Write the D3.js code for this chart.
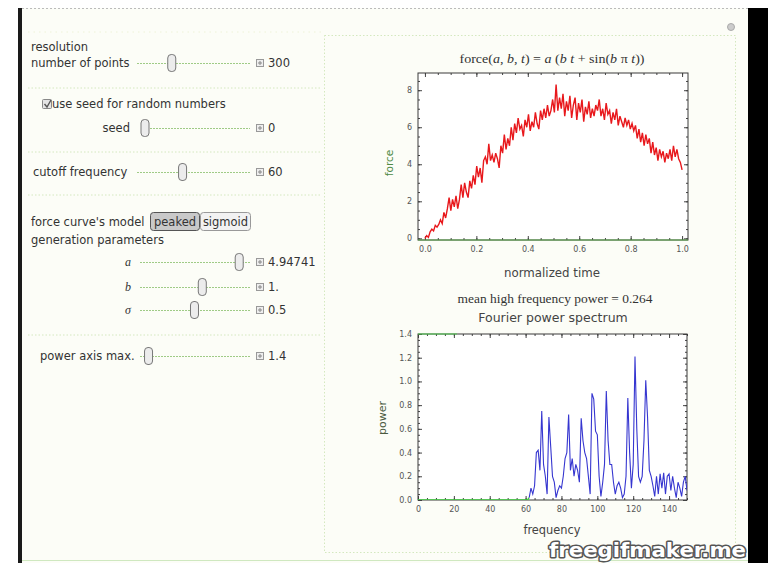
<!DOCTYPE html>
<html>
<head>
<meta charset="utf-8">
<script src="https://cdn.jsdelivr.net/npm/d3@7"></script>
<style>
body { margin: 0; background: #fff; }
svg text { font-family: "DejaVu Sans", sans-serif; }
.tick text { font-size: 8px; fill: #555; }
.tick line { stroke: #444; }
</style>
</head>
<body>
<svg id="chart" width="768" height="563"></svg>
<script>
// force curve, 150 samples over normalized time 0..1
const forceValues = [
  0, 0.15, 0.05, 0.35, 0.5, 0.4, 0.7, 0.6, 0.75, 1.0,
  0.8, 1.4, 1.1, 1.6, 2.2, 1.5, 2.1, 1.7, 2.3, 1.6,
  2.1, 2.9, 2.2, 3.0, 2.5, 2.2, 3.1, 2.7, 3.4, 2.9,
  3.9, 3.3, 3.8, 3.0, 4.2, 4.4, 4.0, 5.1, 4.2, 4.5,
  4.1, 4.6, 4.3, 3.8, 5.0, 4.6, 5.6, 4.8, 5.4, 5.0,
  6.0, 5.3, 6.2, 5.7, 6.5, 5.9, 6.1, 5.5, 6.4, 6.0,
  6.7, 5.8, 6.3, 6.0, 6.8, 6.2, 5.9, 6.9, 6.4, 7.0,
  6.5, 7.2, 6.6, 6.9, 7.5, 6.8, 8.3, 6.9, 7.6, 7.0,
  7.8, 6.6, 7.4, 6.9, 7.7, 6.5, 7.2, 7.6, 6.4, 7.3,
  6.8, 7.5, 6.3, 7.1, 6.7, 7.4, 6.5, 7.0, 6.6, 7.2,
  6.9, 7.5, 6.6, 7.0, 6.4, 7.3, 6.7, 6.9, 6.2, 6.8,
  6.4, 7.0, 6.1, 6.6, 6.3, 6.0, 6.5, 6.1, 6.4, 5.9,
  6.2, 5.8, 6.1, 5.4, 5.9, 5.2, 5.7, 5.0, 5.6, 5.1,
  5.4, 4.6, 5.2, 4.5, 4.9, 4.2, 4.8, 4.4, 4.7, 4.1,
  4.6, 4.3, 4.8, 4.2, 5.0, 4.4, 4.8, 4.3, 4.1, 3.7
];

// power spectrum at frequencies 0..150
const spectrumValues = [
  0, 0, 0, 0, 0, 0, 0, 0, 0, 0,
  0, 0, 0, 0, 0, 0, 0, 0, 0, 0,
  0, 0, 0, 0, 0, 0, 0, 0, 0, 0,
  0, 0, 0, 0, 0, 0, 0, 0, 0, 0,
  0, 0, 0, 0, 0, 0, 0, 0, 0, 0,
  0, 0, 0, 0, 0, 0, 0, 0, 0, 0,
  0, 0, 0.02, 0.1, 0.05, 0.12, 0.4, 0.42, 0.25, 0.75,
  0.3, 0.2, 0.05, 0.7, 0.45, 0.2, 0.15, 0.02, 0.08, 0.12,
  0.1, 0.2, 0.35, 0.4, 0.72, 0.25, 0.35, 0.2, 0.3, 0.25,
  0.15, 0.69, 0.5, 0.4, 0.35, 0.2, 0.05, 0.9, 0.85, 0.58,
  0.55, 0.2, 0.03, 0.15, 0.3, 0.92, 0.5, 0.3, 0.3, 0.15,
  0.05, 0.12, 0.15, 0.1, 0.02, 0.05, 0.2, 0.86, 0.4, 0.1,
  0.3, 1.21, 0.6, 0.2, 0.15, 0.2, 0.5, 1.01, 0.7, 0.25,
  0.2, 0.12, 0.03, 0.2, 0.05, 0.22, 0.1, 0.23, 0.05, 0.2,
  0.22, 0.08, 0.2, 0.1, 0.02, 0.15, 0.1, 0.03, 0.15, 0.2,
  0.08
];
const cutoffIndex = 62;

const forceXTicks = [0, 0.2, 0.4, 0.6, 0.8, 1.0];
const forceYTicks = [0, 2, 4, 6, 8];
const powerXTicks = [0, 20, 40, 60, 80, 100, 120, 140];
const powerYTicks = [0, 0.2, 0.4, 0.6, 0.8, 1.0, 1.2, 1.4];

// manipulate controls
const sliderLabels = ["number of points", "seed", "cutoff frequency", "a", "b", "σ", "power axis max."];
const sliderTexts = ["300", "0", "60", "4.94741", "1.", "0.5", "1.4"];
const sliderNumbers = [300, 0, 60, 4.94741, 1, 0.5, 1.4];
const sliderMins = [10, 0, 1, 0, 0, 0.01, 1];
const sliderMaxs = [1000, 100, 150, 5.3, 1.75, 1, 10];
const modelButtons = ["peaked", "sigmoid"];

const svg = d3.select("#chart");

// ---------- panel chrome ----------
svg.append("rect").attr("width", 768).attr("height", 563).attr("fill", "#fff");
svg.append("rect").attr("x", 22).attr("y", 8).attr("width", 726).attr("height", 555).attr("fill", "#fcfdf7");
svg.append("rect").attr("x", 18).attr("y", 8).attr("width", 4).attr("height", 555).attr("fill", "#1a1a1a");
svg.append("rect").attr("x", 748).attr("y", 8).attr("width", 20).attr("height", 555).attr("fill", "#000");
svg.append("line").attr("x1", 22).attr("x2", 748).attr("y1", 8.5).attr("y2", 8.5)
    .attr("stroke", "#bbb").attr("stroke-dasharray", "2,2");
svg.append("line").attr("x1", 22).attr("x2", 748).attr("y1", 560.5).attr("y2", 560.5)
    .attr("stroke", "#cfe8c0");

const dotted = "#d4e8bf";
[88, 152, 195, 335].forEach(function (y) {
    svg.append("line").attr("x1", 28).attr("x2", 322).attr("y1", y).attr("y2", y)
        .attr("stroke", dotted).attr("stroke-dasharray", "1.5,2");
});
svg.append("line").attr("x1", 28).attr("x2", 322).attr("y1", 32).attr("y2", 32)
    .attr("stroke", "#eef3d8").attr("stroke-dasharray", "1.5,4");
svg.append("rect").attr("x", 324.5).attr("y", 35.5).attr("width", 411).attr("height", 517)
    .attr("fill", "none").attr("stroke", dotted).attr("stroke-dasharray", "1.5,2");

// little options circle top right
svg.append("circle").attr("cx", 731).attr("cy", 27).attr("r", 3.5)
    .attr("fill", "#ccc").attr("stroke", "#aaa");

// ---------- controls ----------
const ctl = svg.append("g").attr("fill", "#333").style("font-size", "11.5px");

ctl.append("text").attr("x", 31).attr("y", 51).text("resolution");

// checkbox
ctl.append("rect").attr("x", 42.5).attr("y", 99.5).attr("width", 9).attr("height", 9)
    .attr("fill", "#e4e4e4").attr("stroke", "#888").attr("rx", 1);
ctl.append("path").attr("d", "M44.5,104 L47,107 L51,100").attr("fill", "none")
    .attr("stroke", "#555").attr("stroke-width", 1.4);
ctl.append("text").attr("x", 52).attr("y", 108).text("use seed for random numbers");

ctl.append("text").attr("x", 31).attr("y", 226).text("force curve's model");
ctl.append("text").attr("x", 31).attr("y", 244).text("generation parameters");

// setter bar
const btnX = [150, 200], btnW = [49, 50];
modelButtons.forEach(function (b, i) {
    ctl.append("rect").attr("x", btnX[i] + 0.5).attr("y", 212.5).attr("width", btnW[i]).attr("height", 18)
        .attr("rx", 3).attr("fill", i === 0 ? "#c9c9c9" : "#f2f2f2")
        .attr("stroke", i === 0 ? "#555" : "#999");
    ctl.append("text").attr("x", btnX[i] + btnW[i] / 2 + 0.5).attr("y", 226)
        .attr("text-anchor", "middle").text(b);
});

// slider rows: label x / anchor, center y, track ends
const sliderRows = [
    { lx: 31, anchor: "start", y: 63, x0: 137, x1: 250 },
    { lx: 130, anchor: "end", y: 128, x0: 141, x1: 250 },
    { lx: 33, anchor: "start", y: 172, x0: 137, x1: 250 },
    { lx: 131, anchor: "end", y: 262, x0: 140, x1: 250 },
    { lx: 131, anchor: "end", y: 287, x0: 140, x1: 250 },
    { lx: 131, anchor: "end", y: 310, x0: 140, x1: 250 },
    { lx: 40, anchor: "start", y: 356, x0: 140, x1: 250 }
];

sliderRows.forEach(function (r, i) {
    const italic = i >= 3 && i <= 5;
    ctl.append("text").attr("x", r.lx).attr("y", r.y + 4)
        .attr("text-anchor", r.anchor)
        .style("font-style", italic ? "italic" : null)
        .style("font-family", italic ? "'Liberation Serif', serif" : null)
        .style("font-size", italic ? "12px" : null)
        .text(sliderLabels[i]);
    const sx = d3.scaleLinear().domain([sliderMins[i], sliderMaxs[i]]).range([r.x0 + 4, r.x1 - 4]);
    ctl.append("line").attr("x1", r.x0).attr("x2", r.x1).attr("y1", r.y + 0.5).attr("y2", r.y + 0.5)
        .attr("stroke", "#9fcb86").attr("stroke-dasharray", "2,1");
    ctl.append("rect").attr("x", sx(sliderNumbers[i]) - 4).attr("y", r.y - 8.5)
        .attr("width", 8).attr("height", 17).attr("rx", 3.5)
        .attr("fill", "#ececec").attr("stroke", "#777");
    // plus box
    const bx = r.x1 + 6;
    ctl.append("rect").attr("x", bx + 0.5).attr("y", r.y - 3.5).attr("width", 7).attr("height", 7)
        .attr("fill", "#eee").attr("stroke", "#999");
    ctl.append("path").attr("d", "M" + (bx + 2) + "," + (r.y) + "h4M" + (bx + 4) + "," + (r.y - 2) + "v4")
        .attr("stroke", "#888").attr("stroke-width", 1);
    ctl.append("text").attr("x", bx + 12).attr("y", r.y + 4).text(sliderTexts[i]);
});

// ---------- plot helper ----------
function framePlot(g, x, y, xTicks, yTicks, xMinor, yMinor, xFmt, yFmt) {
    const [L, R] = x.range(), [B, T] = y.range();
    g.append("rect").attr("x", L).attr("y", T).attr("width", R - L).attr("height", B - T).attr("fill", "#fff");

    const axes = [
        { ax: d3.axisBottom(x), tr: "translate(0," + B + ")", major: xTicks, minor: xMinor, fmt: xFmt },
        { ax: d3.axisTop(x), tr: "translate(0," + T + ")", major: xTicks, minor: xMinor, fmt: null },
        { ax: d3.axisLeft(y), tr: "translate(" + L + ",0)", major: yTicks, minor: yMinor, fmt: yFmt },
        { ax: d3.axisRight(y), tr: "translate(" + R + ",0)", major: yTicks, minor: yMinor, fmt: null }
    ];
    axes.forEach(function (a) {
        const mg = g.append("g").attr("transform", a.tr)
            .call(a.ax.tickValues(a.minor).tickSize(-2).tickFormat(""));
        mg.select(".domain").remove();
        const Mg = g.append("g").attr("transform", a.tr)
            .call(a.ax.tickValues(a.major).tickSize(-4).tickPadding(a.fmt ? 6 : 0)
                .tickFormat(a.fmt ? a.fmt : ""));
        Mg.select(".domain").remove();
    });
    g.append("rect").attr("x", L).attr("y", T).attr("width", R - L).attr("height", B - T)
        .attr("fill", "none").attr("stroke", "#3a3a3a").attr("stroke-width", 1);
}

// ---------- force plot ----------
const fx = d3.scaleLinear().domain([-0.027, 1.023]).range([418, 688]);
const fy = d3.scaleLinear().domain([-0.09, 8.93]).range([240, 73]);
const gf = svg.append("g");
framePlot(gf, fx, fy, forceXTicks, forceYTicks,
    d3.range(0, 1.001, 0.05), d3.range(0, 8.9, 0.5), d3.format(".1f"), d3.format("d"));
gf.append("line").attr("x1", 418).attr("x2", 688).attr("y1", 240).attr("y2", 240)
    .attr("stroke", "#5aa94a").attr("stroke-width", 1);

svg.append("clipPath").attr("id", "fclip").append("rect")
    .attr("x", 418).attr("y", 73).attr("width", 270).attr("height", 167);

const forceLine = d3.line()
    .x(function (d, i) { return fx(i / (forceValues.length - 1)); })
    .y(function (d) { return fy(d); });
gf.append("path").attr("clip-path", "url(#fclip)")
    .attr("d", forceLine(forceValues))
    .attr("fill", "none").attr("stroke", "#e8181c").attr("stroke-width", 1.4);

svg.append("text").attr("x", 552).attr("y", 63).attr("text-anchor", "middle")
    .attr("textLength", 185).attr("lengthAdjust", "spacingAndGlyphs")
    .style("font-family", "'Liberation Serif', serif").style("font-size", "12.5px").attr("fill", "#333")
    .html('force(<tspan font-style="italic">a</tspan>, <tspan font-style="italic">b</tspan>, <tspan font-style="italic">t</tspan>) = <tspan font-style="italic">a</tspan> (<tspan font-style="italic">b t</tspan> + sin(<tspan font-style="italic">b</tspan> π <tspan font-style="italic">t</tspan>))');
svg.append("text").attr("x", 552).attr("y", 277).attr("text-anchor", "middle")
    .style("font-size", "11.8px").attr("fill", "#444").text("normalized time");
svg.append("text").attr("transform", "translate(393,163) rotate(-90)").attr("text-anchor", "middle")
    .style("font-size", "10.5px").attr("fill", "#4f8a45").text("force");

// ---------- power spectrum ----------
const px = d3.scaleLinear().domain([0, 150]).range([418, 687]);
const py = d3.scaleLinear().domain([0, 1.4]).range([500, 334]);
const gp = svg.append("g");
framePlot(gp, px, py, powerXTicks, powerYTicks,
    d3.range(0, 151, 5), d3.range(0, 1.41, 0.05), d3.format("d"), d3.format(".1f"));
gp.append("line").attr("x1", 418).attr("x2", 457).attr("y1", 334).attr("y2", 334)
    .attr("stroke", "#4fd04f").attr("stroke-width", 1.2);
gp.selectAll(".tick text").attr("fill", "#5b6b52");

svg.append("clipPath").attr("id", "pclip").append("rect")
    .attr("x", 418).attr("y", 334).attr("width", 269).attr("height", 166);

const specLine = d3.line()
    .x(function (d) { return px(d[0]); })
    .y(function (d) { return py(d[1]); });
const specPts = spectrumValues.map(function (v, i) { return [i, v]; });
gp.append("path").attr("clip-path", "url(#pclip)")
    .attr("d", specLine(specPts.slice(0, cutoffIndex + 1)))
    .attr("fill", "none").attr("stroke", "#3fd03f").attr("stroke-width", 1.4);
gp.append("path").attr("clip-path", "url(#pclip)")
    .attr("d", specLine(specPts.slice(cutoffIndex)))
    .attr("fill", "none").attr("stroke", "#3636d0").attr("stroke-width", 1.1);

svg.append("text").attr("x", 555).attr("y", 303).attr("text-anchor", "middle")
    .attr("textLength", 195).attr("lengthAdjust", "spacingAndGlyphs")
    .style("font-family", "'Liberation Serif', serif").style("font-size", "12.5px").attr("fill", "#333")
    .text("mean high frequency power = 0.264");
svg.append("text").attr("x", 553).attr("y", 322).attr("text-anchor", "middle")
    .style("font-size", "12.5px").attr("fill", "#444").text("Fourier power spectrum");
svg.append("text").attr("x", 552).attr("y", 534).attr("text-anchor", "middle")
    .style("font-size", "11.4px").attr("fill", "#444").text("frequency");
svg.append("text").attr("transform", "translate(386,418) rotate(-90)").attr("text-anchor", "middle")
    .style("font-size", "11px").attr("fill", "#4a5a40").text("power");

// ---------- watermark ----------
svg.append("text").attr("x", 746).attr("y", 557).attr("text-anchor", "end")
    .attr("textLength", 197).attr("lengthAdjust", "spacingAndGlyphs")
    .style("font-size", "20px").style("font-weight", "bold")
    .attr("fill", "#fff").attr("stroke", "#555").attr("stroke-width", 3)
    .attr("paint-order", "stroke").attr("stroke-linejoin", "round")
    .text("freegifmaker.me");
</script>
</body>
</html>
